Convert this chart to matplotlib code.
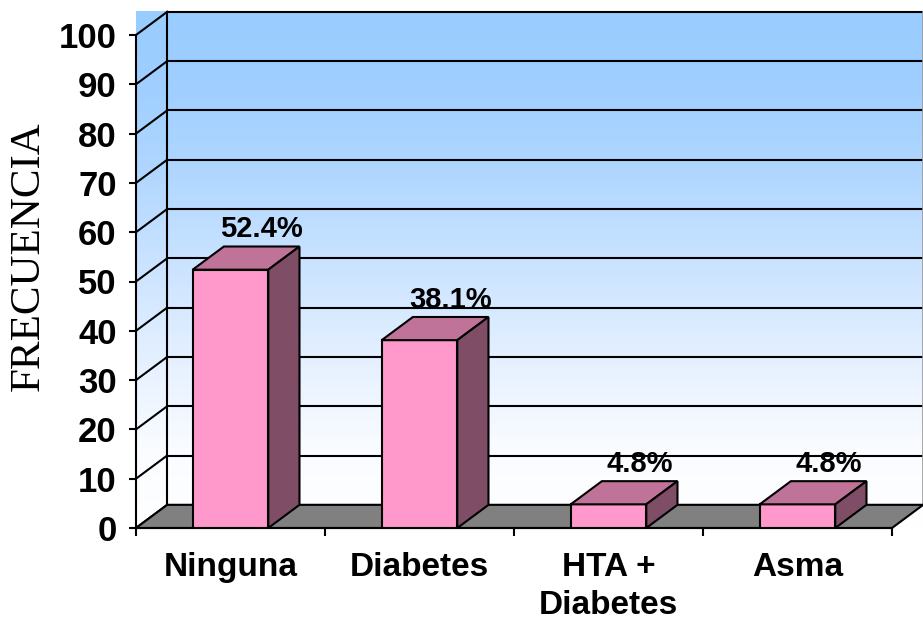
import matplotlib
matplotlib.use('Agg')

import matplotlib.pyplot as plt
import numpy as np
from matplotlib.patches import Polygon
from matplotlib.colors import LinearSegmentedColormap

categorias = ['Ninguna', 'Diabetes', 'HTA +\nDiabetes', 'Asma']
porcentajes = [52.4, 38.1, 4.8, 4.8]
y_ticks = list(range(0, 101, 10))

# desplazamiento de profundidad (efecto 3D) en unidades de datos
dx = 0.165
dy = 4.7
ancho = 0.4

plt.rcParams['font.family'] = ['Liberation Sans', 'DejaVu Sans']

fig = plt.figure(figsize=(9.23, 6.35), dpi=100)
ax = fig.add_axes([136/923, 107/635, 756/923, 493/635])

n = len(categorias)
top = y_ticks[-1]

# paredes con degradado azul -> blanco
grad = np.linspace(0, 1, 256).reshape(-1, 1)
cmap = LinearSegmentedColormap.from_list('pared', [
    (0.0, '#ffffff'), (0.15, '#fafcff'), (0.3, '#e8f2ff'), (0.5, '#cce4ff'),
    (0.7, '#afd6ff'), (0.85, '#a0cfff'), (1.0, '#99ccff')])
im = ax.imshow(grad, extent=[0, n+dx, 0, top+dy], origin='lower', aspect='auto',
               cmap=cmap, zorder=0, clip_on=False)
pared = Polygon([(0, 0), (dx, dy), (n+dx, dy), (n+dx, top+dy), (dx, top+dy), (0, top)],
                transform=ax.transData)
im.set_clip_path(pared)

# rejilla en pared trasera y lateral
for v in y_ticks:
    ax.plot([dx, n+dx], [v+dy, v+dy], color='k', lw=1.5, zorder=1, clip_on=False)
    ax.plot([0, dx], [v, v+dy], color='k', lw=1.5, zorder=1, clip_on=False)
ax.plot([dx, dx], [dy, top+dy], color='k', lw=1.5, zorder=1, clip_on=False)
ax.plot([n+dx, n+dx], [dy, top+dy], color='#999999', lw=1.2, zorder=1, clip_on=False)

# piso
ax.add_patch(Polygon([(0, 0), (n, 0), (n+dx, dy), (dx, dy)], fc='#808080', ec='k',
                     lw=1.5, zorder=2, clip_on=False))

# barras 3D
xs = np.arange(n) + 0.5
ax.bar(xs, porcentajes, width=ancho, color='#ff99cc', edgecolor='k', lw=1.5, zorder=3)
for x, v in zip(xs, porcentajes):
    x0 = x - ancho/2
    x1 = x + ancho/2
    ax.add_patch(Polygon([(x0, v), (x1, v), (x1+dx, v+dy), (x0+dx, v+dy)],
                         fc='#c07399', ec='k', lw=1.5, zorder=3, clip_on=False))
    ax.add_patch(Polygon([(x1, 0), (x1+dx, dy), (x1+dx, v+dy), (x1, v)],
                         fc='#804d66', ec='k', lw=1.5, zorder=3, clip_on=False))
    ax.text(x+dx, v+dy+3.5, f'{v:.1f}%', ha='center', va='center',
            fontsize=21, fontweight='bold', zorder=4)

ax.set_xlim(0, n)
ax.set_ylim(0, top)

ax.set_xticks(np.arange(n+1))
ax.set_xticklabels([])
ax.set_xticks(xs, minor=True)
ax.set_xticklabels(categorias, minor=True, fontsize=24, fontweight='bold', linespacing=1.3)
ax.tick_params(axis='x', which='major', length=6, width=1.5, direction='out')
ax.tick_params(axis='x', which='minor', length=0, pad=17)

ax.set_yticks(y_ticks)
ax.set_yticklabels([str(v) for v in y_ticks], fontsize=25, fontweight='bold')
ax.tick_params(axis='y', length=5, width=1.5, pad=9)

for s in ['top', 'right']:
    ax.spines[s].set_visible(False)
ax.spines['left'].set_linewidth(1.5)
ax.spines['bottom'].set_linewidth(1.5)
ax.spines['left'].set_zorder(5)

ax.set_ylabel('FRECUENCIA', fontsize=31, family='Liberation Serif')
ax.yaxis.set_label_coords(-0.117, 0.552)

plt.savefig('out.png', dpi=100)
plt.close()
